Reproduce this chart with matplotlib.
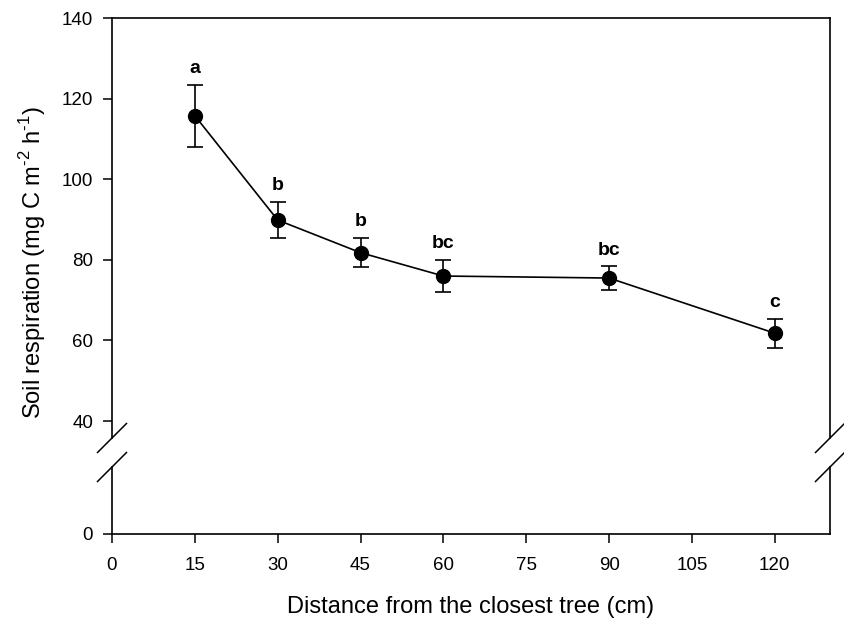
import matplotlib
matplotlib.use("Agg")
import matplotlib.pyplot as plt
import numpy as np

plt.rcParams['font.family'] = ['Liberation Sans', 'DejaVu Sans']
plt.rcParams['mathtext.fontset'] = 'custom'
plt.rcParams['mathtext.rm'] = 'Liberation Sans'

distance = [15, 30, 45, 60, 90, 120]
respiration = [115.8, 89.9, 81.8, 76.0, 75.5, 61.8]
err = [7.7, 4.5, 3.6, 4.0, 2.9, 3.6]
letters = ['a', 'b', 'b', 'bc', 'bc', 'c']
xticks = [0, 15, 30, 45, 60, 75, 90, 105, 120]
yticks_upper = [40, 60, 80, 100, 120, 140]
yticks_lower = [0]

W, H = 845, 621
fig = plt.figure(figsize=(W/100, H/100), dpi=100)

left = 112 / W
width = (830 - 112) / W
top_px, brk1_px, brk2_px, bot_px = 18.3, 438, 467, 534
ax_u = fig.add_axes([left, 1 - brk1_px / H, width, (brk1_px - top_px) / H])
ax_l = fig.add_axes([left, 1 - bot_px / H, width, (bot_px - brk2_px) / H])

px_per_unit = (421 - 18.3) / 100.0
ax_u.set_ylim(140 - (brk1_px - top_px) / px_per_unit, 140)
ax_l.set_ylim(0, (bot_px - brk2_px) / px_per_unit)
for ax in (ax_u, ax_l):
    ax.set_xlim(0, 130)
    for s in ax.spines.values():
        s.set_linewidth(1.2)
    ax.tick_params(direction='out', length=6.5, width=1.1, labelsize=13.5, pad=7)

ax_u.spines['bottom'].set_visible(False)
ax_l.spines['top'].set_visible(False)
ax_u.tick_params(axis='x', bottom=False, labelbottom=False)
ax_u.set_yticks(yticks_upper)
ax_l.set_yticks(yticks_lower)
ax_l.set_xticks(xticks)
ax_l.tick_params(axis='x', pad=10)

ax_u.errorbar(distance, respiration, yerr=err, fmt='-o', color='black',
              markersize=10, linewidth=1.2, elinewidth=1.2, capsize=5.5,
              capthick=1.2, clip_on=False)

for x, y, e, t in zip(distance, respiration, err, letters):
    ax_u.annotate(t, (x, y + e), xytext=(0, 8.5), textcoords='offset points',
                  ha='center', va='baseline', fontsize=14, fontweight='bold')

# break marks
d = 14.5
for xp in (112, 830):
    for yp in (brk1_px, brk2_px):
        fig.add_artist(plt.Line2D([(xp - d) / W, (xp + d) / W],
                                  [1 - (yp + d) / H, 1 - (yp - d) / H],
                                  transform=fig.transFigure, color='black',
                                  linewidth=1.1))

fig.text((283 + 658) / 2 / W, 1 - 613 / H, 'Distance from the closest tree (cm)',
         ha='center', va='baseline', fontsize=17)
fig.text(33 / W, 1 - 263 / H, 'Soil respiration (mg C m$^{\u2010 2}$ h$^{\u2010 1}$)',
         ha='center', va='center', rotation=90, fontsize=17)

fig.savefig('out.png', dpi=100)
